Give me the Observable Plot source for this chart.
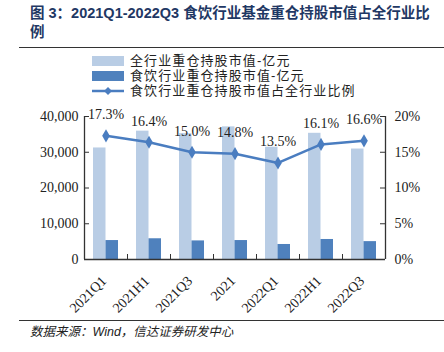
<!DOCTYPE html>
<html><head><meta charset="utf-8">
<script src="https://cdn.jsdelivr.net/npm/d3@7"></script>
<script src="https://cdn.jsdelivr.net/npm/@observablehq/plot@0.6"></script>
<style>
html,body{margin:0;padding:0;background:#fff;}
#wrap{position:relative;width:444px;height:352px;overflow:hidden;background:#fff;}
#title{position:absolute;left:30px;top:4px;font:bold 14.5px/19px "Liberation Sans","Noto Sans CJK SC",sans-serif;color:#1f3864;white-space:nowrap;}
.rule{position:absolute;left:19px;width:425px;height:0;border-top:1.5px solid #333;}
#legend{position:absolute;left:92px;top:53px;font:13px/15px "Liberation Sans","Noto Sans CJK SC",sans-serif;color:#222;}
.li{display:flex;align-items:center;height:15px;}
.li span{display:inline-block;height:15px;line-height:15px;white-space:nowrap;letter-spacing:1.1px;}
.sw{width:32px;height:10px;margin-right:6px;flex:none;}
#chart{position:absolute;left:0;top:95px;}
#source{position:absolute;left:30px;top:325px;font:italic 12.5px/14px "Liberation Sans","Noto Sans CJK SC",sans-serif;color:#222;}
</style></head>
<body>
<div id="wrap">
  <div id="title">图 3：2021Q1-2022Q3 食饮行业基金重仓持股市值占全行业比<br>例</div>
  <div class="rule" style="top:47px"></div>
  <div id="chart"></div>
  <div id="legend"></div>
  <div class="rule" style="top:320px"></div>
  <div id="source">数据来源：Wind，信达证券研发中心</div>
</div>
<script>
const categories = ["2021Q1","2021H1","2021Q3","2021","2022Q1","2022H1","2022Q3"];
const totalValues = [31200, 35900, 35200, 37100, 31400, 35300, 30900];
const foodValues = [5300, 5800, 5200, 5300, 4200, 5600, 5000];
const shareValues = [17.3, 16.4, 15.0, 14.8, 13.5, 16.1, 16.6];
const leftTicks = [0, 10000, 20000, 30000, 40000];
const rightTicks = [0, 5, 10, 15, 20];
const seriesNames = ["全行业重仓持股市值-亿元", "食饮行业重仓持股市值-亿元", "食饮行业重仓持股市值占全行业比例"];

const lightC = "#b9cde5", darkC = "#4f81bd", lineC = "#4a7dc0", axisC = "#333";
const k = 40000 / 20; // right axis (%) to left axis units
const data = categories.map((c, i) => ({cat: c, total: totalValues[i], food: foodValues[i], share: shareValues[i]}));

// legend
const lg = document.getElementById("legend");
lg.innerHTML =
  `<div class="li"><div class="sw" style="background:${lightC}"></div><span>${seriesNames[0]}</span></div>` +
  `<div class="li"><div class="sw" style="background:${darkC}"></div><span>${seriesNames[1]}</span></div>` +
  `<div class="li"><svg width="32" height="10" style="margin-right:6px;flex:none"><line x1="0" y1="5" x2="32" y2="5" stroke="${lineC}" stroke-width="2.5"/><path d="M16 1 L20 5 L16 9 L12 5Z" fill="${lineC}"/></svg><span>${seriesNames[2]}</span></div>`;

const W = 444, H = 225, mL = 84, mR = 59, mT = 21, mB = 61;
const pw = W - mL - mR, ph = H - mT - mB, bw = pw / categories.length;
const serif = "Liberation Serif, Times New Roman, serif";

const chart = Plot.plot({
  width: W, height: H,
  marginLeft: mL, marginRight: mR, marginTop: mT, marginBottom: mB,
  style: {fontFamily: serif, fontSize: "14px", color: "#222", background: "transparent", overflow: "visible"},
  x: {type: "band", domain: categories, padding: 0, axis: null},
  y: {domain: [0, 40000], axis: null},
  marks: [
    Plot.barY(data, {x: "cat", y: "total", fill: lightC, insetLeft: 9, insetRight: bw - 21.5}),
    Plot.barY(data, {x: "cat", y: "food", fill: darkC, insetLeft: 21.5, insetRight: bw - 34}),
    // axis lines
    Plot.ruleY([0], {stroke: axisC, strokeWidth: 1.3}),
    Plot.ruleX([categories[0]], {dx: -bw / 2, stroke: axisC, strokeWidth: 1.3}),
    Plot.ruleX([categories[categories.length - 1]], {dx: bw / 2, stroke: axisC, strokeWidth: 1.3}),
    // inward ticks
    Plot.tickY(leftTicks.slice(1), {y: d => d, insetRight: pw - 5, stroke: axisC}),
    Plot.tickY(rightTicks.slice(1), {y: d => d * k, insetLeft: pw - 5, stroke: axisC}),
    Plot.tickX(categories.slice(1), {x: d => d, dx: -bw / 2, insetTop: ph - 5, stroke: axisC}),
    // line series
    Plot.line(data, {x: "cat", y: d => d.share * k, stroke: lineC, strokeWidth: 2.5}),
    Plot.dot(data, {x: "cat", y: d => d.share * k, symbol: "diamond", r: 4, fill: lineC, stroke: null}),
    Plot.text(data, {x: "cat", y: d => d.share * k, text: d => d.share.toFixed(1) + "%", dy: -21, fill: "#222"}),
    // axis labels
    Plot.axisY({anchor: "left", ticks: leftTicks, tickSize: 0, tickPadding: 6, tickFormat: d => d === 0 ? "0" : d3.format(",")(d), fontSize: 14}),
    Plot.axisY({anchor: "right", ticks: rightTicks.map(d => d * k), tickSize: 0, tickPadding: 9, tickFormat: d => (d / k) + "%", fontSize: 14}),
    Plot.text(categories, {x: d => d, frameAnchor: "bottom", dy: 19, dx: -2, rotate: -45, textAnchor: "end", lineAnchor: "middle", fill: "#222"})
  ]
});
document.getElementById("chart").appendChild(chart);
</script>
</body></html>
